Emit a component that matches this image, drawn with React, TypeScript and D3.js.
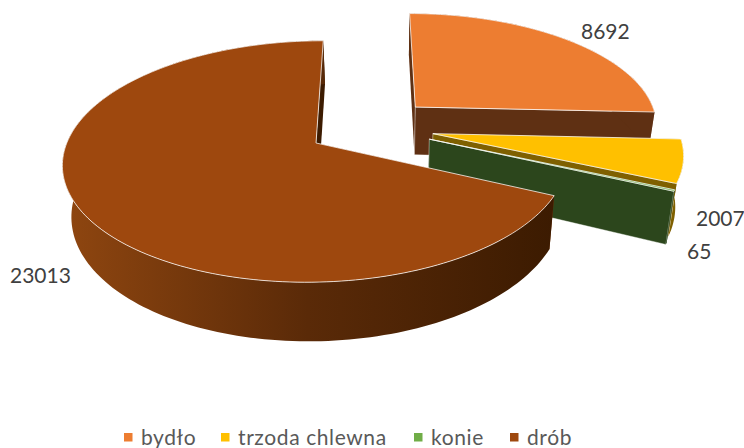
import React from 'react';
import * as d3 from 'd3';

const width = 744;
const height = 448;

// values as labelled on the slices
const categories = ['bydło', 'trzoda chlewna', 'konie', 'drób'];
const values = [8692, 2007, 65, 23013];

const topColors = ['#ed7d31', '#ffc000', '#70ad47', '#9e480e'];
const sideColors = ['#5f3013', '#7f6000', '#2c461c', '#853e0c'];

// layout of the text
const labelPos = [[581, 39], [696, 226], [687, 259], [10, 283]];
const legendX = [124, 221, 414, 510];

// fake 3d camera: unit pie in world coords, then perspective onto the screen
const originX = 370.6;
const originY = 126.8;
const scaleX = 244;
const scaleY = 113;
const persp = 0.15;
const explode = 0.26;
const depth = 49;
const vanishX = 385;
const converge = 0.028;

const project = (wx: number, wy: number, down = false): [number, number] => {
	const s = 1 / (1 + persp * wy);
	const x = originX + scaleX * wx * s;
	const y = originY - scaleY * wy * s;
	if (!down) return [ x, y ];
	return [ x + (vanishX - x) * converge, y + depth * s ];
};

const arcs = d3.pie<number>().sort(null).startAngle(0).endAngle(2 * Math.PI)(values);
const line = d3.line();

const slices = arcs.map((arc, i) => {
	const mid = (arc.startAngle + arc.endAngle) / 2;
	const ox = explode * Math.sin(mid);
	const oy = explode * Math.cos(mid);
	const steps = Math.max(2, Math.ceil((arc.endAngle - arc.startAngle) * 40));
	const angles = d3.range(steps + 1).map((k) => arc.startAngle + (arc.endAngle - arc.startAngle) * k / steps);
	const rim = (down: boolean) => angles.map((t) => project(ox + Math.sin(t), oy + Math.cos(t), down));
	const apex = project(ox, oy);
	const apexDown = project(ox, oy, true);
	const rimTop = rim(false);
	const rimDown = rim(true);
	return {
		i,
		top: line([ apex, ...rimTop ]) + 'Z',
		side: line([ ...rimTop, ...rimDown.slice().reverse() ]) + 'Z',
		cutA: line([ apex, rimTop[0], rimDown[0], apexDown ]) + 'Z',
		cutB: line([ apex, rimTop[steps], rimDown[steps], apexDown ]) + 'Z'
	};
});

export default function App() {
	return (
		<svg
			width={width}
			height={height}
			viewBox={`0 0 ${width} ${height}`}
			style={{ position: 'absolute', left: 0, top: 0, background: '#fff' }}
		>
			<defs>
				<linearGradient id="drobSide" gradientUnits="userSpaceOnUse" x1="63" y1="0" x2="553" y2="0">
					<stop offset="0" stopColor="#8f4610" />
					<stop offset="0.5" stopColor="#5a2a08" />
					<stop offset="1" stopColor="#3c1b01" />
				</linearGradient>
			</defs>
			{slices.map((s) => (
				<g key={categories[s.i]}>
					<path d={s.cutA} fill={sideColors[s.i]} />
					<path d={s.cutB} fill={s.i === 3 ? '#3c1b01' : sideColors[s.i]} stroke="#fff" strokeOpacity={s.i === 3 ? 0 : 0.6} strokeWidth="0.7" />
					<path d={s.side} fill={s.i === 3 ? 'url(#drobSide)' : sideColors[s.i]} />
					<path d={s.top} fill={topColors[s.i]} stroke="#fff" strokeOpacity="0.75" strokeWidth="1" strokeLinejoin="round" />
				</g>
			))}
			<g fontFamily="Lato, sans-serif" fontSize="21" fill="#404040">
				{values.map((v, i) => (
					<text key={v} x={labelPos[i][0]} y={labelPos[i][1]}>{v}</text>
				))}
			</g>
			<g fontFamily="Lato, sans-serif" fontSize="21" fill="#595959" letterSpacing="0.6">
				{categories.map((c, i) => (
					<g key={c}>
						<rect x={legendX[i]} y="433" width="8.5" height="8.5" fill={topColors[i]} />
						<text x={legendX[i] + 17} y="445">{c}</text>
					</g>
				))}
			</g>
		</svg>
	);
}
